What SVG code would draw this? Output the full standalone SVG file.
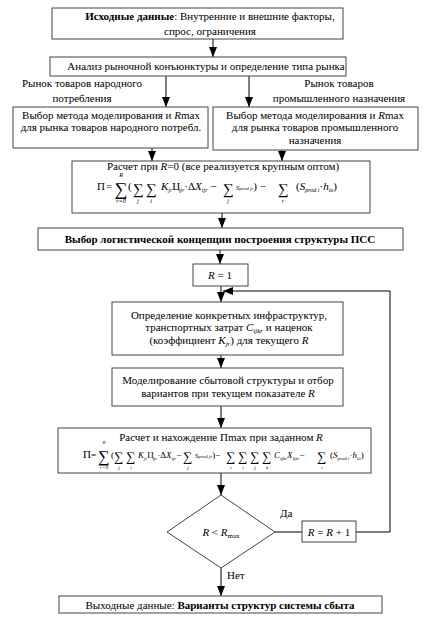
<svg xmlns="http://www.w3.org/2000/svg" width="423" height="620" viewBox="0 0 423 620">
<style>
text{font-family:"Liberation Serif","Times New Roman","DejaVu Serif",serif;font-size:11px;fill:#000}
.c{text-anchor:middle}
.b{font-weight:bold}
.i{font-style:italic}
.box{fill:#fff;stroke:#444;stroke-width:1}
.ln{fill:none;stroke:#000;stroke-width:1}
.S{text-anchor:middle;font-size:18px}
.s{text-anchor:middle;font-size:15px}
.lim{text-anchor:middle;font-style:italic;font-size:6px}
.S2{text-anchor:middle;font-size:16px}
.s2{text-anchor:middle;font-size:13px}
.lim2{text-anchor:middle;font-style:italic;font-size:5px}
.f2{font-size:9px}
</style>
<defs>
<marker id="ah" viewBox="0 0 10 8" refX="10" refY="4" markerWidth="10" markerHeight="8" markerUnits="userSpaceOnUse" orient="auto">
<path d="M0,0 L10,4 L0,8 z" fill="#000"/>
</marker>
</defs>
<rect width="423" height="620" fill="#fff"/>

<g id="connectors">
<line class="ln" x1="213" y1="39" x2="213" y2="57" marker-end="url(#ah)"/>
<line class="ln" x1="166" y1="76" x2="166" y2="107" marker-end="url(#ah)"/>
<line class="ln" x1="249" y1="76" x2="249" y2="107" marker-end="url(#ah)"/>
<line class="ln" x1="152" y1="148" x2="152" y2="161" marker-end="url(#ah)"/>
<line class="ln" x1="282" y1="150" x2="282" y2="161" marker-end="url(#ah)"/>
<line class="ln" x1="222" y1="213" x2="222" y2="228" marker-end="url(#ah)"/>
<line class="ln" x1="220" y1="250" x2="220" y2="264" marker-end="url(#ah)"/>
<line class="ln" x1="221" y1="286" x2="221" y2="302" marker-end="url(#ah)"/>
<polyline class="ln" points="356,532 390,532 390,291 223,291" marker-end="url(#ah)"/>
<line class="ln" x1="221" y1="355" x2="221" y2="368" marker-end="url(#ah)"/>
<line class="ln" x1="221" y1="406" x2="221" y2="428" marker-end="url(#ah)"/>
<line class="ln" x1="221" y1="473" x2="221" y2="495" marker-end="url(#ah)"/>
<line class="ln" x1="275" y1="532" x2="302" y2="532"/>
<line class="ln" x1="221" y1="568" x2="221" y2="596" marker-end="url(#ah)"/>
<text x="280" y="517">Да</text>
<text x="227" y="579">Нет</text>
<text class="c" x="82" y="87">Рынок товаров народного</text>
<text class="c" x="82" y="102">потребления</text>
<text class="c" x="339" y="87">Рынок товаров</text>
<text class="c" x="339" y="102">промышленного назначения</text>
</g>

<g id="input">
<rect class="box" x="52" y="8" width="291" height="31"/>
<text class="c" x="210" y="20"><tspan class="b">Исходные данные</tspan>: Внутренние и внешние факторы,</text>
<text class="c" x="210" y="35">спрос, ограничения</text>
</g>

<g id="analysis">
<rect class="box" x="50" y="57" width="296" height="19"/>
<text class="c" x="206" y="70">Анализ рыночной конъюнктуры и определение типа рынка</text>
</g>

<g id="method-consumer">
<rect class="box" x="13" y="107" width="195" height="41"/>
<text class="c" x="111" y="119">Выбор метода моделирования и <tspan class="i">R</tspan>max</text>
<text class="c" x="111" y="131">для рынка товаров народного потребл.</text>
</g>

<g id="method-industrial">
<rect class="box" x="213" y="107" width="205" height="43"/>
<text class="c" x="315" y="119">Выбор метода моделирования и <tspan class="i">R</tspan>max</text>
<text class="c" x="315" y="131">для рынка товаров промышленного</text>
<text class="c" x="315" y="144">назначения</text>
</g>

<g id="calc-r0">
<rect class="box" x="72" y="161" width="298" height="52"/>
<text class="c" x="223" y="170">Расчет при <tspan class="i">R</tspan>=0 (все реализуется крупным оптом)</text>
<text x="97" y="190" font-size="12">П</text>
<text x="106" y="190">=</text>
<text class="S" x="121" y="195">∑</text>
<text class="lim" x="121" y="177">R</text>
<text class="lim" x="121" y="203">r=0</text>
<text x="128" y="190" font-size="12">(</text>
<text class="s" x="138" y="194">∑</text>
<text class="lim" x="138" y="203">j</text>
<text class="s" x="151" y="194">∑</text>
<text class="lim" x="151" y="203">i</text>
<text x="161" y="190"><tspan class="i">K</tspan><tspan class="i" font-size="6" dy="2">jr</tspan><tspan dy="-2">Ц</tspan><tspan class="i" font-size="6" dy="2">jr</tspan><tspan dy="-2">·Δ</tspan><tspan class="i">X</tspan><tspan class="i" font-size="6" dy="2">ijr</tspan><tspan dy="-2"> −</tspan></text>
<text class="s" x="228" y="194">∑</text>
<text class="lim" x="228" y="203">j</text>
<text x="236" y="190"><tspan class="i" font-size="7">S</tspan><tspan class="i" font-size="5">prod  jr</tspan><tspan>) −</tspan></text>
<text class="s" x="283" y="194">∑</text>
<text class="lim" x="283" y="203">r</text>
<text x="296" y="190">(<tspan class="i">S</tspan><tspan class="i" font-size="6" dy="2">prod  i</tspan><tspan dy="-2">·</tspan><tspan class="i">h</tspan><tspan class="i" font-size="6" dy="2">io</tspan><tspan dy="-2">)</tspan></text>
</g>

<g id="concept">
<rect class="box" x="38" y="228" width="365" height="22"/>
<text class="c b" x="220" y="243">Выбор логистической концепции построения структуры ПСС</text>
</g>

<g id="r-init">
<rect class="box" x="193" y="264" width="55" height="22"/>
<text class="c" x="220" y="279"><tspan class="i">R</tspan> = 1</text>
</g>

<g id="infra">
<rect class="box" x="112" y="302" width="231" height="53"/>
<text class="c" x="229" y="319">Определение конкретных инфраструктур,</text>
<text class="c" x="229" y="331">транспортных затрат <tspan class="i">C</tspan><tspan class="i" font-size="7" dy="2">ijkr</tspan><tspan dy="-2"> и наценок</tspan></text>
<text class="c" x="229" y="344">(коэффициент <tspan class="i">K</tspan><tspan class="i" font-size="7" dy="2">jr</tspan><tspan dy="-2">) для текущего </tspan><tspan class="i">R</tspan></text>
</g>

<g id="modeling">
<rect class="box" x="112" y="368" width="231" height="38"/>
<text class="c" x="228" y="384">Моделирование сбытовой структуры и отбор</text>
<text class="c" x="228" y="397">вариантов при текущем показателе <tspan class="i">R</tspan></text>
</g>

<g id="calc-pmax">
<rect class="box" x="58" y="428" width="313" height="45"/>
<text class="c" x="221" y="441">Расчет и нахождение Пmax при заданном <tspan class="i">R</tspan></text>
<text x="83" y="458" font-size="10">П</text>
<text x="91" y="458" class="f2">=</text>
<text class="S2" x="104" y="462">∑</text>
<text class="lim2" x="104" y="444">R</text>
<text class="lim2" x="104" y="469">r=0</text>
<text x="111" y="458" class="f2">(</text>
<text class="s2" x="119" y="461">∑</text>
<text class="lim2" x="119" y="469">j</text>
<text class="s2" x="131" y="461">∑</text>
<text class="lim2" x="131" y="469">i</text>
<text x="138" y="458" class="f2"><tspan class="i">K</tspan><tspan class="i" font-size="5" dy="1.5">jr</tspan><tspan dy="-1.5">Ц</tspan><tspan class="i" font-size="5" dy="1.5">jr</tspan><tspan dy="-1.5">·Δ</tspan><tspan class="i">X</tspan><tspan class="i" font-size="5" dy="1.5">ijr</tspan><tspan dy="-1.5">−</tspan></text>
<text class="s2" x="188" y="461">∑</text>
<text class="lim2" x="188" y="469">j</text>
<text x="195" y="458" class="f2"><tspan class="i" font-size="7">S</tspan><tspan class="i" font-size="5">prod  jr</tspan><tspan>)−</tspan></text>
<text class="s2" x="231" y="461">∑</text>
<text class="lim2" x="231" y="469">r</text>
<text class="s2" x="243" y="461">∑</text>
<text class="lim2" x="243" y="469">i</text>
<text class="s2" x="255" y="461">∑</text>
<text class="lim2" x="255" y="469">j</text>
<text class="s2" x="267" y="461">∑</text>
<text class="lim2" x="267" y="469">k</text>
<text x="274" y="458" class="f2"><tspan class="i">C</tspan><tspan class="i" font-size="5" dy="1.5">ijkr</tspan><tspan class="i" dy="-1.5">X</tspan><tspan class="i" font-size="5" dy="1.5">ijkr</tspan><tspan dy="-1.5">−</tspan></text>
<text class="s2" x="322" y="461">∑</text>
<text class="lim2" x="322" y="469">i</text>
<text x="330" y="458" class="f2">(<tspan class="i">S</tspan><tspan class="i" font-size="5" dy="1.5">prod  i</tspan><tspan dy="-1.5">·</tspan><tspan class="i">h</tspan><tspan class="i" font-size="5" dy="1.5">io</tspan><tspan dy="-1.5">)</tspan></text>
</g>

<g id="decision">
<polygon class="box" points="221,495 275,532 221,568 167,532"/>
<text class="c" x="221" y="536"><tspan class="i">R</tspan> &lt; <tspan class="i">R</tspan><tspan font-size="7" dy="2">max</tspan></text>
</g>

<g id="r-inc">
<rect class="box" x="302" y="521" width="54" height="21"/>
<text class="c" x="329" y="536"><tspan class="i">R</tspan> = <tspan class="i">R</tspan> + 1</text>
</g>

<g id="output">
<rect class="box" x="59" y="596" width="323" height="17"/>
<text class="c" x="220" y="609">Выходные данные: <tspan class="b">Варианты структур системы сбыта</tspan></text>
</g>
</svg>
